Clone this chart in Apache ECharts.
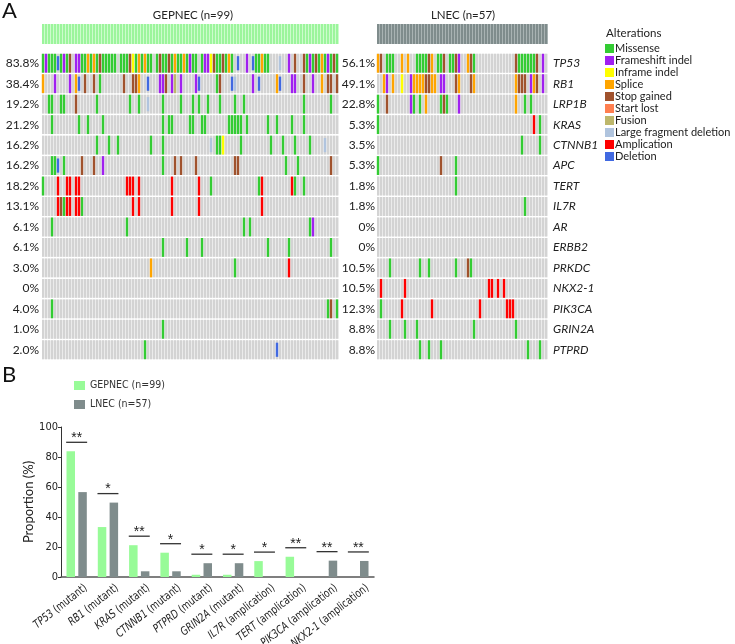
<!DOCTYPE html>
<html><head><meta charset="utf-8">
<script src="https://cdn.jsdelivr.net/npm/echarts@6/dist/echarts.min.js"></script>
<style>html,body{margin:0;padding:0;background:#fff}#c{width:735px;height:644px}</style>
</head><body><div id="c"></div>
<script>
const NARROW = '"Liberation Sans Narrow","DejaVu Sans Condensed",sans-serif';
const SANS = 'Lato, "Open Sans", sans-serif';

// ---------- Panel A data ----------
const genes = ['TP53','RB1','LRP1B','KRAS','CTNNB1','APC','TERT','IL7R','AR','ERBB2','PRKDC','NKX2-1','PIK3CA','GRIN2A','PTPRD'];
const gepPct  = ['83.8%','38.4%','19.2%','21.2%','16.2%','16.2%','18.2%','13.1%','6.1%','6.1%','3.0%','0%','4.0%','1.0%','2.0%'];
const lnecPct = ['56.1%','49.1%','22.8%','5.3%','3.5%','5.3%','1.8%','1.8%','0%','0%','10.5%','10.5%','12.3%','8.8%','8.8%'];
const nGep = 99, nLnec = 57;
const altTypes  = ['Missense','Frameshift indel','Inframe indel','Splice','Stop gained','Start lost','Fusion','Large fragment deletion','Amplication','Deletion'];
const altCodes  = ['M','F','I','S','G','L','U','D','A','X'];
const altColors = ['#33cc33','#a020f0','#ffff00','#ffa500','#a0522d','#ff7f50','#bdb76b','#b0c4de','#ff0000','#4169e1'];

// per gene: "sampleIndex + alteration code"
const gepAlts = [
 '0M 1F 2M 3M 4M 5X 6M 7F 8M 9G 11F 12F 13M 14M 15S 16M 17S 18M 19G 20M 21M 22M 23M 24M 26M 27M 28M 29G 30I 31M 32S 33M 34S 35M 36M 38M 39G 40M 41M 42G 43M 44S 45M 46M 47S 48M 49F 50M 51M 53M 54F 55F 56I 57G 58M 59M 60G 61M 62S 63M 65X 68F 70X 71M 72M 73S 74M 75M 79D 82F 84G 87G 88M 89F 90M 91G 92M 93S 94M 95F 96M 97G 98M',
 '0S 4F 9F 11S 12X 14G 17G 19M 27G 30G 31G 32S 35X 39F 40F 41G 43F 44U 46F 51F 52X 58M 59G 63X 64D 70F 72X 78S 79X 83F 84F 87G 90F 93S 95G 96G 98G',
 '2M 3M 6M 7M 11G 18M 29M 32M 35D 40M 46M 50M 52M 55M 59M 64M 67M 87M 96M',
 '3M 12M 15M 20M 40M 42M 43M 49M 50M 53M 54M 62M 63M 64M 65M 66M 68M 75M 78M 83M 87M',
 '18M 22M 25M 36M 40M 56D 58M 59M 60I 66M 76M 80M 84M 89M 94D',
 '3M 4M 5X 7M 13G 17G 20F 40M 44G 46G 51G 64G 65G 81M 85M 96G',
 '0M 5A 8A 9A 11A 12A 28A 29A 30A 32A 43A 52A 56M 72M 73A 83A 84M 87M',
 '5A 6G 7M 8A 9A 11A 12A 13M 30A 32A 43A 52A 73A',
 '3M 28M 67M 69M 89M 90F',
 '40M 48M 53M 75M 82M 96M',
 '36S 64M 82A',
 '',
 '3M 95M 96G 98M',
 '40M',
 '34M 78X'
];
const lnecAlts = [
 '0S 1G 3M 4M 5M 8S 10S 13M 14M 15M 16M 17G 18S 20M 21M 22G 24M 25M 26G 27F 30S 31G 32M 46G 47M 48M 49M 50M 51M 52M 53G 55F',
 '2S 3F 5S 8I 11F 12S 13S 14S 15S 16G 17G 18S 19S 21F 22F 26G 27S 31G 32S 46S 47G 48G 49G 51F 52S 53G 55F',
 '0M 3G 11F 12M 14M 16S 21M 22G 23M 27F 46S 49M 51M',
 '0M 52A 54M',
 '48M 54M',
 '0M 21G 26M',
 '26M',
 '49M',
 '',
 '',
 '4M 14M 17M 26M 30G 31M',
 '1A 9A 37A 38A 40A 42A',
 '1M 8A 18A 34A 43A 44A 45A',
 '4M 9M 13M 32M 46M',
 '14M 17M 21M 50M 54M'
];

// ---------- Panel B data ----------
const barGenes = ['TP53','RB1','KRAS','CTNNB1','PTPRD','GRIN2A','IL7R','TERT','PIK3CA','NKX2-1'];
const barKinds = ['mutant','mutant','mutant','mutant','mutant','mutant','amplication','amplication','amplication','amplication'];
const gepBar  = [83.8, 33.3, 21.2, 16.2, 1.5, 1.5, 10.6, 13.5, 0, 0];
const lnecBar = [56.6, 49.6, 3.8, 3.8, 9.2, 9.2, 0, 0, 10.9, 10.7];
const sigMarks = ['**','*','**','*','*','*','*','**','**','**'];
const gepName = 'GEPNEC (n=99)', lnecName = 'LNEC (n=57)';

// ---------- helpers ----------
function parseAlts(rows){
  const byType = altCodes.map(()=>[]);
  rows.forEach((s,g)=>{
    s.split(/\s+/).filter(Boolean).forEach(tok=>{
      const m = tok.match(/^(\d+)([A-Z])$/);
      byType[altCodes.indexOf(m[2])].push([+m[1], g]);
    });
  });
  return byType;
}
function allCells(n){ const d=[]; for(let g=0;g<genes.length;g++) for(let c=0;c<n;c++) d.push([c,g]); return d; }
function cols(n){ const d=[]; for(let c=0;c<n;c++) d.push([c,0.5]); return d; }

function bgCell(params, api){
  const c = api.coord([api.value(0), api.value(1)]);
  const w = api.size([1,0])[0];
  const h = api.size([0,1])[1] - 1.6;
  return {type:'group', children:[
    {type:'rect', shape:{x:c[0], y:c[1]-h/2, width:w, height:h}, style:{fill:'#ebebeb'}},
    {type:'rect', shape:{x:c[0], y:c[1]-h/2, width:w-1, height:h}, style:{fill:'#d3d3d3'}}
  ]};
}
function altRender(code, color){
  return function(params, api){
    const c = api.coord([api.value(0), api.value(1)]);
    const w = api.size([1,0])[0];
    const full = api.size([0,1])[1] - 1.6;
    const h = (code==='X'||code==='D') ? full*0.75 : full;
    return {type:'rect', shape:{x:c[0]-0.2, y:c[1]-h/2, width:w-0.6, height:h}, style:{fill:color}};
  };
}
function annoRender(light, dark){
  return function(params, api){
    const a = api.coord([api.value(0), 1]);
    const b = api.coord([api.value(0)+1, 0]);
    return {type:'group', children:[
      {type:'rect', shape:{x:a[0], y:a[1], width:b[0]-a[0], height:b[1]-a[1]}, style:{fill:light}},
      {type:'rect', shape:{x:a[0], y:a[1], width:b[0]-a[0]-1, height:b[1]-a[1]}, style:{fill:dark}}
    ]};
  };
}
function sigRender(params, api){
  const c = api.coord([api.value(0), api.value(1)]);
  const band = api.size([1,0])[0];
  const hw = band*0.335;
  return {type:'group', children:[
    {type:'line', shape:{x1:c[0]-hw, y1:c[1], x2:c[0]+hw, y2:c[1]}, style:{stroke:'#333', lineWidth:1.3}},
    {type:'text', x:c[0], y:c[1]+3, style:{text:sigMarks[params.dataIndex], align:'center', verticalAlign:'bottom', fill:'#222', fontSize:14, fontFamily:'"Liberation Sans", sans-serif'}}
  ]};
}
function catLabelRender(params, api){
  const i = api.value(0);
  const c = api.coord([i, 0]);
  return {type:'group', x:c[0]+5.5, y:c[1]+5, rotation:38*Math.PI/180, children:[
    {type:'text', x:0, y:0, scaleX:0.86,
     style:{text:'{i|'+barGenes[i]+'} ('+barKinds[i]+')', align:'right', verticalAlign:'top',
       fontFamily:NARROW, fontSize:11.5, fill:'#222',
       rich:{i:{fontStyle:'italic', fontFamily:NARROW, fontSize:11.5, fill:'#222'}}}}
  ]};
}

const gepByType = parseAlts(gepAlts);
const lnecByType = parseAlts(lnecAlts);

const hiddenVal = (min,max,gi)=>({type:'value', gridIndex:gi, min:min, max:max, show:false});
const series = [];
series.push({type:'custom', xAxisIndex:0, yAxisIndex:0, renderItem:bgCell, data:allCells(nGep), encode:{x:0,y:1}, silent:true, progressive:0, animation:false, z:1});
series.push({type:'custom', xAxisIndex:1, yAxisIndex:1, renderItem:bgCell, data:allCells(nLnec), encode:{x:0,y:1}, silent:true, progressive:0, animation:false, z:1});
altTypes.forEach((name,i)=>{
  series.push({name:name, type:'custom', xAxisIndex:0, yAxisIndex:0, renderItem:altRender(altCodes[i], altColors[i]), data:gepByType[i], encode:{x:0,y:1}, itemStyle:{color:altColors[i]}, progressive:0, animation:false, z:2});
  series.push({name:name, type:'custom', xAxisIndex:1, yAxisIndex:1, renderItem:altRender(altCodes[i], altColors[i]), data:lnecByType[i], encode:{x:0,y:1}, itemStyle:{color:altColors[i]}, progressive:0, animation:false, z:2});
});
series.push({type:'custom', xAxisIndex:2, yAxisIndex:3, renderItem:annoRender('#cdfccd','#9cf59c'), data:cols(nGep), encode:{x:0,y:1}, silent:true, progressive:0, animation:false});
series.push({type:'custom', xAxisIndex:3, yAxisIndex:4, renderItem:annoRender('#a9b3b3','#7f8c8c'), data:cols(nLnec), encode:{x:0,y:1}, silent:true, progressive:0, animation:false});
series.push({name:gepName, type:'bar', xAxisIndex:4, yAxisIndex:5, data:gepBar, barWidth:8.5, barGap:'39%', itemStyle:{color:'#98fb98'}, animation:false});
series.push({name:lnecName, type:'bar', xAxisIndex:4, yAxisIndex:5, data:lnecBar, barWidth:8.5, barGap:'39%', itemStyle:{color:'#7f8c8c'}, animation:false});
series.push({type:'custom', xAxisIndex:4, yAxisIndex:5, renderItem:sigRender, data:barGenes.map((g,i)=>[i, Math.max(gepBar[i], lnecBar[i])+6]), encode:{x:0,y:1}, silent:true, animation:false, z:5});
series.push({type:'custom', xAxisIndex:4, yAxisIndex:5, renderItem:catLabelRender, data:barGenes.map((g,i)=>[i, 0]), encode:{x:0,y:1}, silent:true, animation:false, clip:false, z:5});

const catY = (gi, labels, pos, italic, margin)=>({
  type:'category', gridIndex:gi, data:genes, inverse:true, position:pos,
  axisLine:{show:false}, axisTick:{show:false}, splitLine:{show:false},
  axisLabel:{formatter:(v,i)=>labels[i], fontFamily:SANS, fontSize:12, color:'#222', margin:margin, fontStyle: italic?'italic':'normal'}
});

const option = {
  animation:false,
  textStyle:{fontFamily:SANS},
  grid:[
    {left:42, top:53, width:297, height:307, outerBoundsMode:'none'},
    {left:377, top:53, width:171, height:307, outerBoundsMode:'none'},
    {left:42, top:24, width:297, height:20, outerBoundsMode:'none'},
    {left:377, top:24, width:171, height:20, outerBoundsMode:'none'},
    {left:61, top:427, width:313, height:150, outerBoundsMode:'none'}
  ],
  xAxis:[
    hiddenVal(0,nGep,0), hiddenVal(0,nLnec,1), hiddenVal(0,nGep,2), hiddenVal(0,nLnec,3),
    {type:'category', gridIndex:4, data:barGenes,
     axisLine:{lineStyle:{color:'#555', width:1.5}}, axisTick:{show:false},
     axisLabel:{show:false}}
  ],
  yAxis:[
    catY(0, gepPct, 'left', false, 3),
    catY(1, lnecPct, 'left', false, 2),
    catY(1, genes, 'right', true, 5),
    hiddenVal(0,1,2), hiddenVal(0,1,3),
    {type:'value', gridIndex:4, min:0, max:100, interval:20,
     axisLine:{show:true, lineStyle:{color:'#333', width:1}}, axisTick:{show:true, length:3, lineStyle:{color:'#333'}},
     splitLine:{show:false}, axisLabel:{fontFamily:NARROW, fontSize:11, color:'#222', margin:3},
     name:'Proportion (%)', nameLocation:'middle', nameGap:18, nameTextStyle:{fontFamily:SANS, fontSize:13, color:'#222'}}
  ],
  legend:[
    {orient:'vertical', left:605, top:43, padding:0, icon:'rect', itemWidth:9, itemHeight:9, itemGap:1, selectedMode:false,
     data:altTypes.map((n,i)=>({name:n, itemStyle:{color:altColors[i]}})),
     textStyle:{fontFamily:SANS, fontSize:11, lineHeight:9, color:'#222', padding:[0,0,0,-4]}},
    {orient:'vertical', left:74, top:380, padding:0, icon:'rect', itemWidth:11, itemHeight:9, itemGap:8, selectedMode:false,
     data:[{name:gepName, itemStyle:{color:'#98fb98'}},{name:lnecName, itemStyle:{color:'#7f8c8c'}}],
     textStyle:{fontFamily:NARROW, fontSize:10.5, lineHeight:9, color:'#333'}}
  ],
  graphic:[
    {type:'text', left:2, top:0, style:{text:'A', fontSize:22, fontFamily:SANS, fill:'#111'}},
    {type:'text', left:2, top:364, style:{text:'B', fontSize:22, fontFamily:SANS, fill:'#111'}},
    {type:'text', x:193, y:15, style:{text:gepName, align:'center', verticalAlign:'middle', fontSize:11.5, fontFamily:SANS, fill:'#222'}},
    {type:'text', x:463, y:15, style:{text:lnecName, align:'center', verticalAlign:'middle', fontSize:11.5, fontFamily:SANS, fill:'#222'}},
    {type:'text', x:606, y:33, style:{text:'Alterations', align:'left', verticalAlign:'middle', fontSize:11.5, fontFamily:SANS, fill:'#222'}}
  ],
  series:series
};
const chart = echarts.init(document.getElementById('c'));
chart.setOption(option);
</script>
</body></html>
